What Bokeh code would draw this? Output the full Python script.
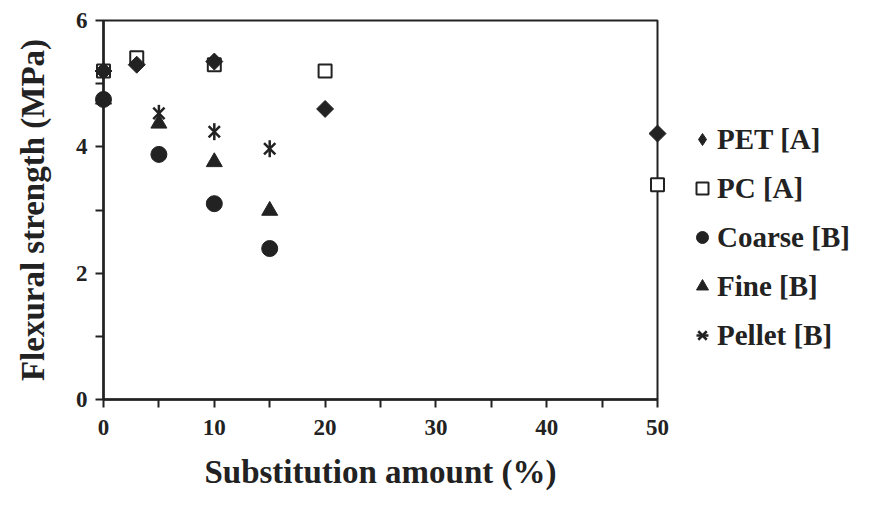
import math
from bokeh.plotting import figure
from bokeh.layouts import row
from bokeh.models import Legend, LegendItem, Range1d, FixedTicker
from bokeh.embed import file_html
from bokeh.resources import INLINE

# Data
pet_x = [0, 3, 10, 20, 50]
pet_y = [5.20, 5.30, 5.35, 4.60, 4.21]
pc_x = [0, 3, 10, 20, 50]
pc_y = [5.20, 5.41, 5.30, 5.20, 3.40]
coarse_x = [0, 5, 10, 15]
coarse_y = [4.75, 3.88, 3.10, 2.39]
fine_x = [0, 5, 10, 15]
fine_y = [4.75, 4.37, 3.76, 2.99]
pellet_x = [0, 5, 10, 15]
pellet_y = [4.75, 4.53, 4.24, 3.97]

x_ticks = [0, 10, 20, 30, 40, 50]
x_minor = [5, 15, 25, 35, 45]
y_ticks = [0, 2, 4, 6]
y_minor = [1, 3, 5]
labels = ["PET [A]", "PC [A]", "Coarse [B]", "Fine [B]", "Pellet [B]"]

FONT = "Liberation Serif"
INK = "#222222"

p = figure(width=680, height=500,
           x_range=Range1d(0, 50), y_range=Range1d(0, 6),
           output_backend="svg", toolbar_location=None,
           min_border_left=103, min_border_top=20, min_border_bottom=101,
           min_border_right=23)
p.background_fill_color = "white"
p.border_fill_color = "white"
p.grid.visible = False
p.outline_line_color = INK
p.outline_line_width = 2

for ax in (p.xaxis[0], p.yaxis[0]):
    ax.axis_line_width = 2.5
    ax.axis_line_color = INK
    ax.major_tick_line_width = 2
    ax.minor_tick_line_width = 2
    ax.major_tick_line_color = INK
    ax.minor_tick_line_color = INK
    ax.major_tick_in = 0
    ax.minor_tick_in = 0
    ax.major_tick_out = 8
    ax.minor_tick_out = 8
    ax.major_label_text_font = FONT
    ax.major_label_text_font_style = "bold"
    ax.major_label_text_font_size = "23px"
    ax.major_label_text_color = INK
    ax.axis_label_text_font = FONT
    ax.axis_label_text_font_style = "bold"
    ax.axis_label_text_color = INK
    ax.axis_label_text_font_size = "33px"

p.xaxis.ticker = FixedTicker(ticks=x_ticks, minor_ticks=x_minor)
p.yaxis.ticker = FixedTicker(ticks=y_ticks, minor_ticks=y_minor)
p.xaxis.axis_label = "Substitution amount (%)"
p.yaxis.axis_label = "Flexural strength (MPa)"
p.xaxis.major_label_standoff = 12
p.yaxis.major_label_standoff = 8
p.xaxis.axis_label_standoff = 16
p.yaxis.axis_label_standoff = 22

p.scatter(pc_x, pc_y, marker="square", size=13, fill_color="white",
          line_color=INK, line_width=2, level="overlay")
p.scatter(pet_x, pet_y, marker="square", angle=math.pi / 4, size=12,
          fill_color=INK, line_color=INK, level="overlay")
p.scatter(coarse_x, coarse_y, marker="circle", size=16,
          fill_color=INK, line_color=INK, level="overlay")
p.scatter(fine_x, fine_y, marker="triangle", size=16,
          fill_color=INK, line_color=INK, level="overlay")
p.scatter(pellet_x, pellet_y, marker="x", size=16, line_color=INK,
          line_width=2.5, level="overlay")
p.scatter(pellet_x, pellet_y, marker="dash", size=17, angle=math.pi / 2,
          line_color=INK, line_width=2.5, level="overlay")

# Legend panel (separate figure so the legend is not clipped by the plot frame)
lg = figure(width=184, height=500, x_range=Range1d(0, 1), y_range=Range1d(0, 1),
            output_backend="svg", toolbar_location=None,
            x_axis_location=None, y_axis_location=None,
            min_border=0, min_border_left=0, min_border_right=0,
            min_border_top=0, min_border_bottom=0)
lg.grid.visible = False
lg.outline_line_color = None
lg.background_fill_color = "white"
lg.border_fill_color = "white"

off = [-10]
l_pet = lg.scatter(off, off, marker="diamond", size=14, fill_color=INK, line_color=INK)
l_pc = lg.scatter(off, off, marker="square", size=12, fill_color="white",
                  line_color=INK, line_width=2)
l_coarse = lg.scatter(off, off, marker="circle", size=12, fill_color=INK, line_color=INK)
l_fine = lg.scatter(off, off, marker="triangle", size=12, fill_color=INK, line_color=INK)
l_pel_x = lg.scatter(off, off, marker="x", size=12, line_color=INK, line_width=2.5)
l_pel_v = lg.scatter(off, off, marker="dash", size=12, line_color=INK, line_width=2.5)

legend = Legend(items=[
    LegendItem(label=labels[0], renderers=[l_pet]),
    LegendItem(label=labels[1], renderers=[l_pc]),
    LegendItem(label=labels[2], renderers=[l_coarse]),
    LegendItem(label=labels[3], renderers=[l_fine]),
    LegendItem(label=labels[4], renderers=[l_pel_x, l_pel_v]),
])
legend.label_text_font = FONT
legend.label_text_font_style = "bold"
legend.label_text_font_size = "29px"
legend.label_text_color = INK
legend.label_text_baseline = "middle"
legend.border_line_color = None
legend.background_fill_alpha = 0
legend.glyph_width = 30
legend.glyph_height = 30
legend.label_height = 34
legend.label_standoff = 0
legend.spacing = 15
legend.padding = 4
legend.margin = 0
legend.location = (7, 47)
lg.add_layout(legend, "center")

layout = row(p, lg, spacing=0)
open("out.html", "w").write(file_html(layout, INLINE))
